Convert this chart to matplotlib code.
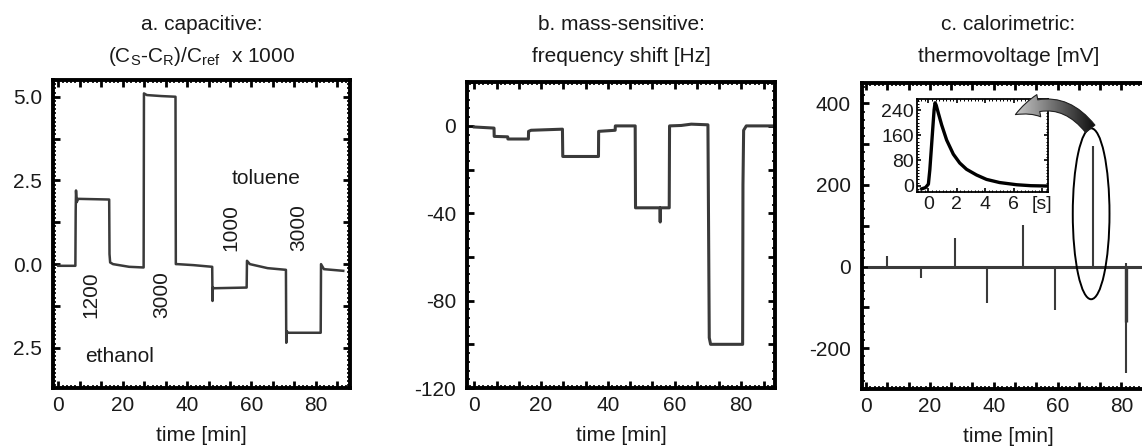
import matplotlib
matplotlib.use('Agg')
import matplotlib.pyplot as plt
import numpy as np
from matplotlib.patches import Ellipse, FancyArrowPatch
from matplotlib.ticker import MultipleLocator, FuncFormatter

plt.rcParams['font.family'] = ['Liberation Sans', 'DejaVu Sans']
plt.rcParams['mathtext.fontset'] = 'custom'
plt.rcParams['mathtext.rm'] = 'Liberation Sans'
plt.rcParams['mathtext.it'] = 'Liberation Sans:italic'
plt.rcParams['mathtext.default'] = 'regular'

# ---------------- data ----------------
titles_line1 = ["a. capacitive:", "b. mass-sensitive:", "c. calorimetric:"]
titles_line2 = [r"(C$_\mathrm{S}$-C$_\mathrm{R}$)/C$_\mathrm{ref}$  x 1000",
                "frequency shift [Hz]", "thermovoltage [mV]"]
xlabel = "time [min]"
xtick_values = [0, 20, 40, 60, 80]

# panel a: capacitive
a_time = [0.0, 5.3, 5.4, 5.5, 5.7, 6.2, 15.8, 15.9, 16.1, 17.0, 22.0, 26.5, 26.6, 27.5,
          32.0, 36.4, 36.5, 37.0, 42.0, 47.8, 47.9, 48.0, 48.4, 58.5, 58.6, 59.5, 65.0,
          70.7, 70.8, 70.9, 71.4, 81.5, 81.6, 82.5, 88.5]
a_signal = [-0.05, -0.05, 1.6, 2.2, 1.85, 1.95, 1.93, 0.3, 0.05, 0.0, -0.08, -0.1, 5.1, 5.05,
            5.02, 5.0, 0.0, 0.0, -0.03, -0.08, -1.1, -0.7, -0.72, -0.7, 0.1, 0.0, -0.12,
            -0.17, -2.35, -2.0, -2.05, -2.05, 0.0, -0.15, -0.2]
a_yticks = [5.0, 2.5, 0.0, -2.5]
a_yticklabels = ["5.0", "2.5", "0.0", "2.5"]
a_notes = ["1200", "3000", "1000", "3000"]
a_note_x = [10.0, 32.0, 53.5, 74.6]
a_note_y = [-0.9, -0.9, 1.1, 1.1]
a_solvents = ["toluene", "ethanol"]
a_solvent_x = [64.6, 19.0]
a_solvent_y = [2.55, -2.75]

# panel b: mass-sensitive
b_time = [0.0, 5.9, 5.95, 10.0, 10.05, 16.2, 16.25, 17.0, 26.4, 26.5, 37.2, 37.25, 42.2, 42.25,
          48.2, 48.3, 55.6, 55.7, 55.8, 58.4, 58.5, 62.0, 65.0, 70.0, 70.4, 70.8, 80.4, 80.5,
          80.7, 81.5, 90.0]
b_shift = [-0.5, -1.0, -4.8, -5.0, -6.0, -6.0, -2.5, -2.0, -1.5, -14.0, -14.0, -2.5, -2.0, 0.0,
           0.0, -37.5, -37.5, -44.0, -37.5, -37.5, 0.0, 0.2, 0.8, 0.5, -97.0, -100.0, -100.0,
           -27.0, -2.0, 0.0, 0.0]
b_yticks = [0, -40, -80, -120]

# panel c: calorimetric
c_base_time = [1.0, 90.0]
c_base_value = [0.0, 0.0]
c_spike_time = [6.7, 17.2, 28.0, 38.0, 49.2, 59.2, 71.0, 81.5, 81.5]
c_spike_value = [25, -29, 71, -90, 102, -106, 295, -261, 8]
c_spike_core_time = [81.5]
c_spike_core_value = [-135]
c_yticks = [400, 200, 0, -200]

# inset: single calorimetric peak
inset_t = [-0.47, -0.2, 0.0, 0.1, 0.2, 0.3, 0.4, 0.47, 0.55, 0.7, 0.93, 1.28, 1.75, 2.2,
           2.68, 3.38, 4.08, 5.0, 6.2, 7.2, 8.3]
inset_v = [-10, -6, 5, 50, 113, 177, 240, 263, 255, 230, 193, 145, 100, 72, 52, 34, 20,
           10, 3, 0, -1]
inset_xticks = [0, 2, 4, 6, 8]
inset_xticklabels = ["0", "2", "4", "6", "[s]"]
inset_yticks = [0, 80, 160, 240]

# ---------------- figure ----------------
W, H = 1142, 448
fig = plt.figure(figsize=(W / 100, H / 100), dpi=100)
fig.patch.set_facecolor('white')


def px_axes(l, r, t, b):
    return fig.add_axes([l / W, 1 - b / H, (r - l) / W, (b - t) / H])


ax_a = px_axes(53, 350, 80, 388)
ax_b = px_axes(467, 775, 82, 388)
ax_c = px_axes(862, 1155, 83, 389)

FS = 15
TXT = '#1a1a1a'
LINE = '#3a3a3a'


def label_formatter(values, labels):
    def f(v, pos):
        for val, lab in zip(values, labels):
            if abs(v - val) < 1e-6 * max(1, abs(val)) + 1e-9:
                return lab
        return ''
    return FuncFormatter(f)


def style(ax, ystep, yfine, yvals, ylabels, xstep=20 / 3, xfine=20 / 15,
          spw=2.8, maj_len=5, maj_w=2.0, fs=FS, xvals=xtick_values, xlabels=None):
    for s in ax.spines.values():
        s.set_linewidth(spw)
        s.set_color('black')
    if xlabels is None:
        xlabels = [str(v) for v in xvals]
    ax.xaxis.set_major_locator(MultipleLocator(xstep))
    ax.xaxis.set_minor_locator(MultipleLocator(xfine))
    ax.yaxis.set_major_locator(MultipleLocator(ystep))
    ax.yaxis.set_minor_locator(MultipleLocator(yfine))
    ax.xaxis.set_major_formatter(label_formatter(xvals, xlabels))
    ax.yaxis.set_major_formatter(label_formatter(yvals, ylabels))
    ax.tick_params(which='major', direction='in', length=maj_len, width=maj_w,
                   top=True, right=True, labelsize=fs, colors='black', labelcolor=TXT)
    ax.tick_params(which='minor', direction='in', length=maj_len * 0.4, width=maj_w * 0.6,
                   top=True, right=True)
    ax.tick_params(axis='y', which='major', pad=8)
    ax.tick_params(axis='x', which='major', pad=6)


# ---- panel a
ax_a.plot(a_time, a_signal, color=LINE, lw=1.8)
ax_a.set_xlim(-1.65, 90.6)
ax_a.set_ylim(-3.7, 5.5)
style(ax_a, 1.25, 0.125, a_yticks, a_yticklabels)
for txt, x, y in zip(a_notes, a_note_x, a_note_y):
    ax_a.text(x, y, txt, rotation=90, ha='center', va='center', fontsize=15, color=TXT)
for txt, x, y in zip(a_solvents, a_solvent_x, a_solvent_y):
    ax_a.text(x, y, txt, ha='center', va='center', fontsize=FS, color=TXT)

# ---- panel b
ax_b.plot(b_time, b_shift, color=LINE, lw=2.2)
ax_b.set_xlim(-2.2, 90.1)
ax_b.set_ylim(-120, 20.1)
style(ax_b, 20, 4, b_yticks, [str(v) for v in b_yticks])

# ---- panel c
ax_c.plot(c_base_time, c_base_value, color=LINE, lw=2.2)
ax_c.vlines(c_spike_time, 0, c_spike_value, color=LINE, lw=1.5)
ax_c.vlines(c_spike_core_time, 0, c_spike_core_value, color=LINE, lw=2.4)
ax_c.set_xlim(-1.25, 90.5)
ax_c.set_ylim(-300, 450)
style(ax_c, 100, 20, c_yticks, [str(v) for v in c_yticks])
ax_c.add_patch(Ellipse((70.5, 129.5), 11.5, 419, fill=False, lw=1.4, color='black', zorder=5))

for ax in (ax_a, ax_b, ax_c):
    ax.set_xlabel(xlabel, fontsize=FS, color=TXT, labelpad=8)

# titles
centers = [(53 + 350) / 2, (467 + 775) / 2, (862 + 1155) / 2]
for cx, l1, l2 in zip(centers, titles_line1, titles_line2):
    fig.text(cx / W, 1 - 25 / H, l1, ha='center', va='center', fontsize=FS, color=TXT)
    fig.text(cx / W, 1 - 57 / H, l2, ha='center', va='center', fontsize=FS, color=TXT)

# ---- inset
ax_in = px_axes(917, 1048, 99, 192)
ax_in.plot(inset_t, inset_v, color='black', lw=2.4)
ax_in.set_xlim(-0.8, 8.4)
ax_in.set_ylim(-20, 275)
style(ax_in, 80, 10, inset_yticks, [str(v) for v in inset_yticks],
      xstep=2, xfine=0.25, spw=1.3, maj_len=3, maj_w=1.2, fs=14,
      xvals=inset_xticks, xlabels=inset_xticklabels)
ax_in.tick_params(axis='y', which='major', pad=2)
ax_in.tick_params(axis='x', which='major', pad=3)

# ---- curved gradient arrow (overlay in figure-fraction coordinates)
ov = fig.add_axes([0, 0, 1, 1], zorder=10)
ov.axis('off')
ov.patch.set_alpha(0)
tail = (1092 / W, 1 - 131 / H)
head = (1013 / W, 1 - 116 / H)
astyle = 'simple,head_width=1.8,head_length=2.0,tail_width=0.95'
arr_fill = FancyArrowPatch(tail, head, connectionstyle='arc3,rad=0.45', arrowstyle=astyle,
                           mutation_scale=9, facecolor='#555555', edgecolor='none', zorder=1)
ov.add_patch(arr_fill)
grad = np.linspace(0.88, 0.03, 256).reshape(1, -1)
img = ov.imshow(grad, cmap='gray', vmin=0, vmax=1, aspect='auto',
                extent=(1005 / W, 1098 / W, 1 - 140 / H, 1 - 95 / H), zorder=2)
img.set_clip_path(arr_fill)
arr_edge = FancyArrowPatch(tail, head, connectionstyle='arc3,rad=0.45', arrowstyle=astyle,
                           mutation_scale=9, facecolor='none', edgecolor='#222222', lw=0.8,
                           zorder=3)
ov.add_patch(arr_edge)
ov.set_xlim(0, 1)
ov.set_ylim(0, 1)

fig.savefig('out.png', dpi=100)
